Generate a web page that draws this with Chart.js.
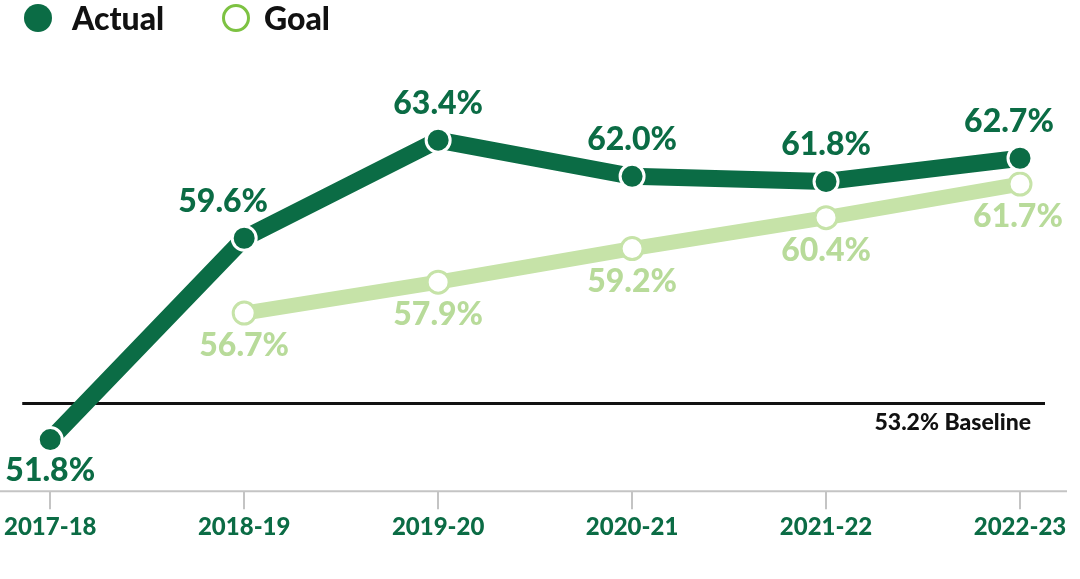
<!DOCTYPE html>
<html>
<head>
<meta charset="utf-8">
<script src="https://cdn.jsdelivr.net/npm/chart.js@4/dist/chart.umd.min.js"></script>
<style>
  html, body { margin: 0; padding: 0; background: #ffffff; }
  #wrap { position: relative; width: 1080px; height: 579px; }
  #legend { position: absolute; left: 0; top: 0; height: 36px; font-family: Lato, sans-serif; font-weight: 900; font-size: 32px; color: #111; }
  .item { position: absolute; top: 0; height: 36px; line-height: 36px; white-space: nowrap; }
  .dot { position: absolute; top: 4px; width: 28px; height: 28px; border-radius: 50%; box-sizing: border-box; }
</style>
</head>
<body>
<div id="wrap">
  <canvas id="c" width="1080" height="579"></canvas>
  <div id="legend"></div>
</div>
<script>
const categories = ["2017-18", "2018-19", "2019-20", "2020-21", "2021-22", "2022-23"];
const actualValues = [51.8, 59.6, 63.4, 62.0, 61.8, 62.7];
const goalValues = [null, 56.7, 57.9, 59.2, 60.4, 61.7];
const baselineValue = 53.2;
const baselineText = "53.2% Baseline";
const seriesNames = ["Actual", "Goal"];

const DARK = "#0b6c45";
const LIGHT_LINE = "#c6e3a8";
const LIGHT_TEXT = "#b8db9a";
const LEGEND_GOAL = "#7dc242";
const FONT = "Lato, sans-serif";

// HTML legend
const legend = document.getElementById("legend");
legend.innerHTML =
  '<div class="item" style="left:24px"><span class="dot" style="left:0;background:' + DARK + '"></span><span style="margin-left:48px">' + seriesNames[0] + '</span></div>' +
  '<div class="item" style="left:222px"><span class="dot" style="left:0;border:3px solid ' + LEGEND_GOAL + ';background:#fff"></span><span style="margin-left:42px">' + seriesNames[1] + '</span></div>';

const baselinePlugin = {
  id: "baseline",
  beforeDatasetsDraw(chart) {
    const { ctx, chartArea, scales } = chart;
    const y = scales.y.getPixelForValue(baselineValue);
    ctx.save();
    ctx.strokeStyle = "#111";
    ctx.lineWidth = 3;
    ctx.beginPath();
    ctx.moveTo(chartArea.left - 28, y);
    ctx.lineTo(chartArea.right + 25, y);
    ctx.stroke();
    ctx.fillStyle = "#111";
    ctx.font = "900 23px " + FONT;
    ctx.textAlign = "right";
    ctx.textBaseline = "middle";
    ctx.fillText(baselineText, chartArea.right + 11, y + 19);
    // full-width x axis line
    ctx.strokeStyle = "#c4c4c4";
    ctx.lineWidth = 2;
    ctx.beginPath();
    ctx.moveTo(0, chartArea.bottom);
    ctx.lineTo(chartArea.right + 47, chartArea.bottom);
    ctx.stroke();
    ctx.restore();
  }
};

const labelPlugin = {
  id: "pointLabels",
  afterDatasetsDraw(chart, args, opts) {
    const { ctx } = chart;
    ctx.save();
    ctx.font = "900 32px " + FONT;
    ctx.textAlign = "center";
    ctx.textBaseline = "middle";
    chart.data.datasets.forEach((ds, di) => {
      const meta = chart.getDatasetMeta(di);
      meta.data.forEach((pt, i) => {
        const v = ds.data[i];
        if (v === null || v === undefined) return;
        let dy;
        if (di === 0) {
          dy = (v === Math.min(...actualValues)) ? 31 : -37;
        } else {
          dy = 33;
        }
        const dx = (opts.shift[di] && opts.shift[di][i]) || 0;
        ctx.fillStyle = di === 0 ? DARK : LIGHT_TEXT;
        ctx.fillText(v.toFixed(1) + "%", pt.x + dx, pt.y + dy);
      });
    });
    ctx.restore();
  }
};

new Chart(document.getElementById("c"), {
  type: "line",
  data: {
    labels: categories,
    datasets: [
      {
        label: seriesNames[0],
        data: actualValues,
        borderColor: DARK,
        backgroundColor: DARK,
        borderWidth: 17,
        pointRadius: 12,
        pointBackgroundColor: DARK,
        pointBorderColor: "#ffffff",
        pointBorderWidth: 3,
        borderCapStyle: "round",
        tension: 0,
        fill: false
      },
      {
        label: seriesNames[1],
        data: goalValues,
        borderColor: LIGHT_LINE,
        backgroundColor: LIGHT_LINE,
        borderWidth: 15,
        pointRadius: 11,
        pointBackgroundColor: "#ffffff",
        pointBorderColor: LIGHT_LINE,
        pointBorderWidth: 3,
        tension: 0,
        fill: false,
        spanGaps: false
      }
    ]
  },
  options: {
    responsive: false,
    animation: false,
    devicePixelRatio: 1,
    layout: { padding: { left: 50, right: 60, top: 86, bottom: 33 } },
    plugins: {
      legend: { display: false },
      tooltip: { enabled: false },
      pointLabels: { shift: [[0, -21, 0, 0, 0, -11], [0, 0, 0, 0, 0, -2]] }
    },
    scales: {
      x: {
        offset: false,
        border: { display: false },
        grid: { drawOnChartArea: false, drawTicks: true, tickLength: 18, color: "#c4c4c4", lineWidth: 2 },
        ticks: { color: DARK, font: { family: FONT, weight: "900", size: 24 }, padding: 4, maxRotation: 0, autoSkip: false }
      },
      y: {
        display: false,
        min: 49.8,
        max: 65.5
      }
    }
  },
  plugins: [baselinePlugin, labelPlugin]
});
</script>
</body>
</html>
